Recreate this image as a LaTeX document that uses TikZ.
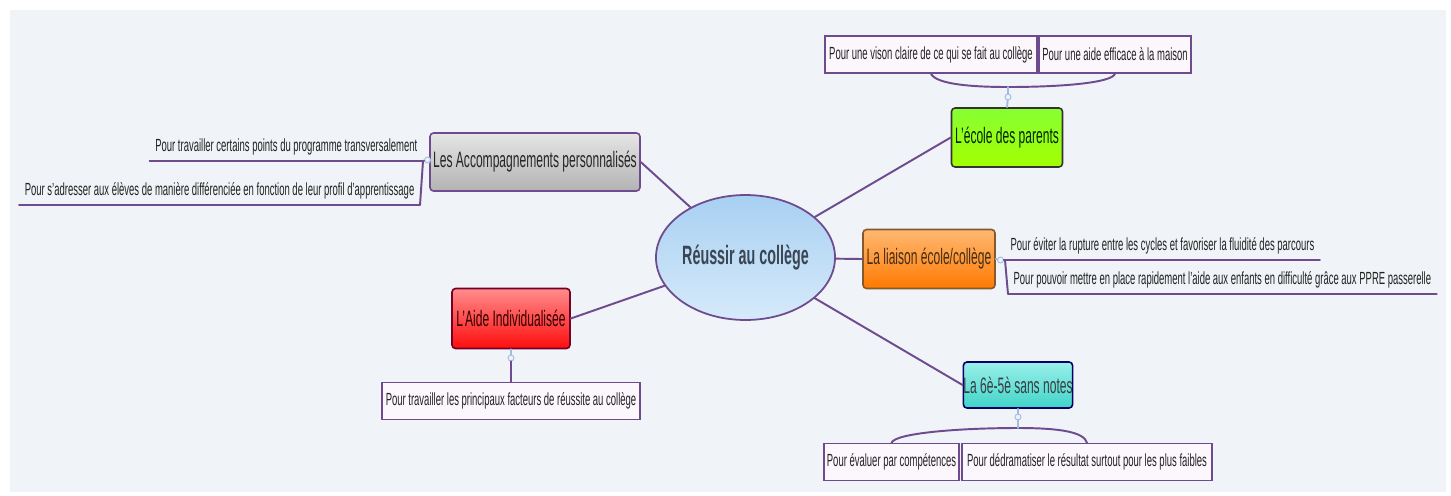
\documentclass[tikz,border=0pt]{standalone}
\usepackage{fontspec}
\setmainfont[FakeStretch=0.54]{Liberation Sans}
\usepackage{xcolor}
\usepackage{tikz}
\usetikzlibrary{shapes.geometric,positioning}
\definecolor{bg}{HTML}{F0F3F7}
\definecolor{link}{HTML}{6E4A8E}
\definecolor{ink}{HTML}{222222}
\definecolor{leaffill}{HTML}{FCF7FC}
\definecolor{knobline}{HTML}{A3BCDD}
\definecolor{knobfill}{HTML}{EAF2FA}
\definecolor{ctrtop}{HTML}{A8D0F2}
\definecolor{ctrbot}{HTML}{D6EAFA}
\definecolor{ctrtext}{HTML}{3A4654}
\definecolor{turqtop}{HTML}{9AF0EA}
\definecolor{turqbot}{HTML}{40D4C8}
\tikzset{
  conn/.style={draw=link, line width=1.1pt, line cap=round, line join=round},
  centre/.style={ellipse, draw=link, line width=1pt, inner sep=0pt,
    top color=ctrtop, bottom color=ctrbot,
    minimum width=3.15cm, minimum height=2.5cm, text=ctrtext,
    font=\fontsize{15.1}{17}\selectfont\bfseries},
  branch/.style={rectangle, rounded corners=2pt, line width=0.9pt, inner sep=0pt,
    font=\fontsize{12.7}{14}\selectfont},
  leafbox/.style={rectangle, draw=link, fill=leaffill, line width=0.8pt, inner sep=0pt,
    minimum height=0.74cm, text=ink, font=\fontsize{10}{11.5}\selectfont},
  leaf/.style={inner sep=3pt, text=ink, font=\fontsize{10}{11.5}\selectfont},
  knob/.style={circle, draw=knobline, fill=knobfill, line width=0.5pt, inner sep=0pt, minimum size=0.12cm},
}
\begin{document}
\begin{tikzpicture}[x=0.02cm, y=-0.02cm]
\useasboundingbox (0,0) rectangle (1451,495);
\fill[white] (0,0) rectangle (1451,495);
\fill[bg] (10,10) rectangle (1446,492);

% centre and main branches
\node[centre] (ctr) at (745.5,257.5) {Réussir au collège};
\node[branch, draw=link, top color=black!10, bottom color=black!30, text=black!85,
  minimum width=4.2cm, minimum height=1.16cm] (acc) at (535,162) {Les Accompagnements personnalisés};
\node[branch, draw=black!80, top color=green!45!lime!80, bottom color=lime!85!green, text=green!15!black,
  minimum width=2.22cm, minimum height=1.18cm] (ecole) at (1007,137.5) {L'école des parents};
\node[branch, draw=brown!70!black, top color=orange!55, bottom color=orange!95!red, text=brown!35!black,
  minimum width=2.64cm, minimum height=1.18cm] (liaison) at (929,259) {La liaison école/collège};
\node[branch, draw=purple!60!black, top color=red!45, bottom color=red!95, text=red!20!black,
  minimum width=2.36cm, minimum height=1.2cm] (aide) at (511,318.5) {L'Aide Individualisée};
\node[branch, draw=blue!40!black, top color=turqtop, bottom color=turqbot, text=cyan!15!black,
  minimum width=2.08cm, minimum height=0.92cm] (sixcinq) at (1018,385) {La 6è-5è sans notes};

\foreach \b/\a in {acc/east, ecole/west, liaison/west, aide/east, sixcinq/west}{
  \draw[conn] (ctr) -- (\b.\a);
}

% Accompagnements
\node[knob] (kacc) at (427.5,160) {};
\node[leaf, anchor=south east] (acc1) at (423,161) {Pour travailler certains points du programme transversalement};
\node[leaf, anchor=south east] (acc2) at (420,205) {Pour s'adresser aux élèves de manière différenciée en fonction de leur profil d'apprentissage};
\draw[conn] (acc1.south west) -- (acc1.south east) -- (kacc);
\draw[conn] (acc2.south west) -- (acc2.south east) -- (acc1.south east);
\draw[conn, draw=knobline] (kacc) -- (acc.west);

% ecole des parents
\node[leafbox, minimum width=4.24cm] (par1) at (931,54.5) {Pour une vison claire de ce qui se fait au collège};
\node[leafbox, minimum width=3.04cm] (par2) at (1115,54.5) {Pour une aide efficace à la maison};
\coordinate (bpar) at (1008,87);
\node[knob] (kpar) at (1008,97) {};
\draw[conn] (par1.south) .. controls (936,84) and (970,87) .. (bpar) .. controls (1060,87) and (1112,83) .. (par2.south);
\draw[conn, draw=knobline] (bpar) -- (kpar) -- (ecole.north);

% liaison
\node[knob] (kli) at (1000.5,260) {};
\node[leaf, anchor=south west] (li1) at (1005,260) {Pour éviter la rupture entre les cycles et favoriser la fluidité des parcours};
\node[leaf, anchor=south west] (li2) at (1008,294) {Pour pouvoir mettre en place rapidement l'aide aux enfants en difficulté grâce aux PPRE passerelle};
\draw[conn] (kli) -- (li1.south west) -- (li1.south east);
\draw[conn] (li1.south west) -- (li2.south west) -- (li2.south east);
\draw[conn, draw=knobline] (liaison.east) -- (kli);

% aide individualisee
\node[knob] (kaide) at (511,358) {};
\node[leafbox, minimum width=5.16cm] (aide1) at (511,401) {Pour travailler les principaux facteurs de réussite au collège};
\draw[conn, draw=knobline] (aide) -- (kaide);
\draw[conn] (kaide) -- (aide1);

% 6e-5e
\node[leafbox, minimum width=2.7cm] (note1) at (891.5,462) {Pour évaluer par compétences};
\node[leafbox, minimum width=5cm] (note2) at (1087,462) {Pour dédramatiser le résultat surtout pour les plus faibles};
\coordinate (bnote) at (1018,428);
\node[knob] (knote) at (1018,417) {};
\draw[conn] (note1.north) .. controls (895,433) and (960,428) .. (bnote) .. controls (1060,428) and (1084,432) .. (note2.north);
\draw[conn, draw=knobline] (bnote) -- (knote) -- (sixcinq);
\end{tikzpicture}
\end{document}
